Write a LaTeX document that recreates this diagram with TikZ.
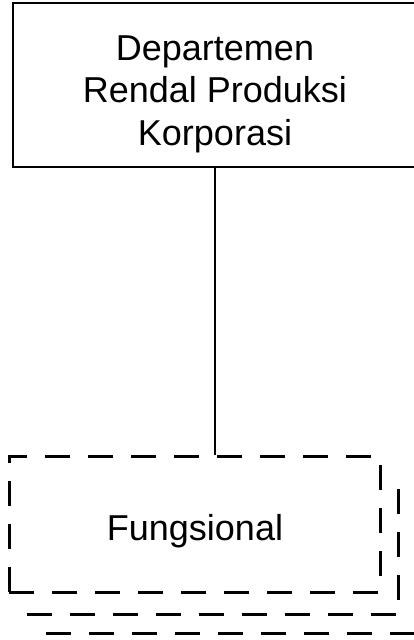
\documentclass[tikz,border=0pt]{standalone}
\usepackage{fontspec}
\setmainfont{Liberation Sans}
\usetikzlibrary{positioning}

\begin{document}
\begin{tikzpicture}[x=1pt, y=1pt,
        teks/.style={align=center, font=\fontsize{36}{42.5}\selectfont},
        kotak/.style={minimum width=440pt, minimum height=164pt},
        garis/.style={line width=2.4pt},
        putus/.style={line width=3pt, dash pattern=on 25pt off 18pt},
        kotakputus/.style={draw, putus, minimum width=371pt, minimum height=136pt}]
        \useasboundingbox (0,0) rectangle (414,-640);
        \node[kotak] (dept) at (233,-85) {};
        % sisi kanan kotak di luar gambar
        \draw[garis] (dept.north east) -- (dept.north west) -- (dept.south west) -- (dept.south east);
        \node[teks] (deptteks) at (215,-94) {Departemen\\ Rendal Produksi\\ Korporasi};
        \node[kotakputus] (fungs) at (194.5,-524) {};
        \node[teks] (fungsteks) at (195,-531) {Fungsional};
        \draw[line width=2.6pt] (deptteks |- dept.south) -- (deptteks |- fungs.north);
        % bayangan di belakang kotak fungsional
        \draw[putus] ([shift={(19,-21)}]fungs.south west) -- ([shift={(17,-21)}]fungs.south east) -- ([shift={(17,-24)}]fungs.north east);
        \draw[putus] ([shift={(38,-40)}]fungs.south west) -- ([shift={(40,-40)}]fungs.south east) -- ([shift={(40,-30)}]fungs.north east);
    \end{tikzpicture}
\end{document}
